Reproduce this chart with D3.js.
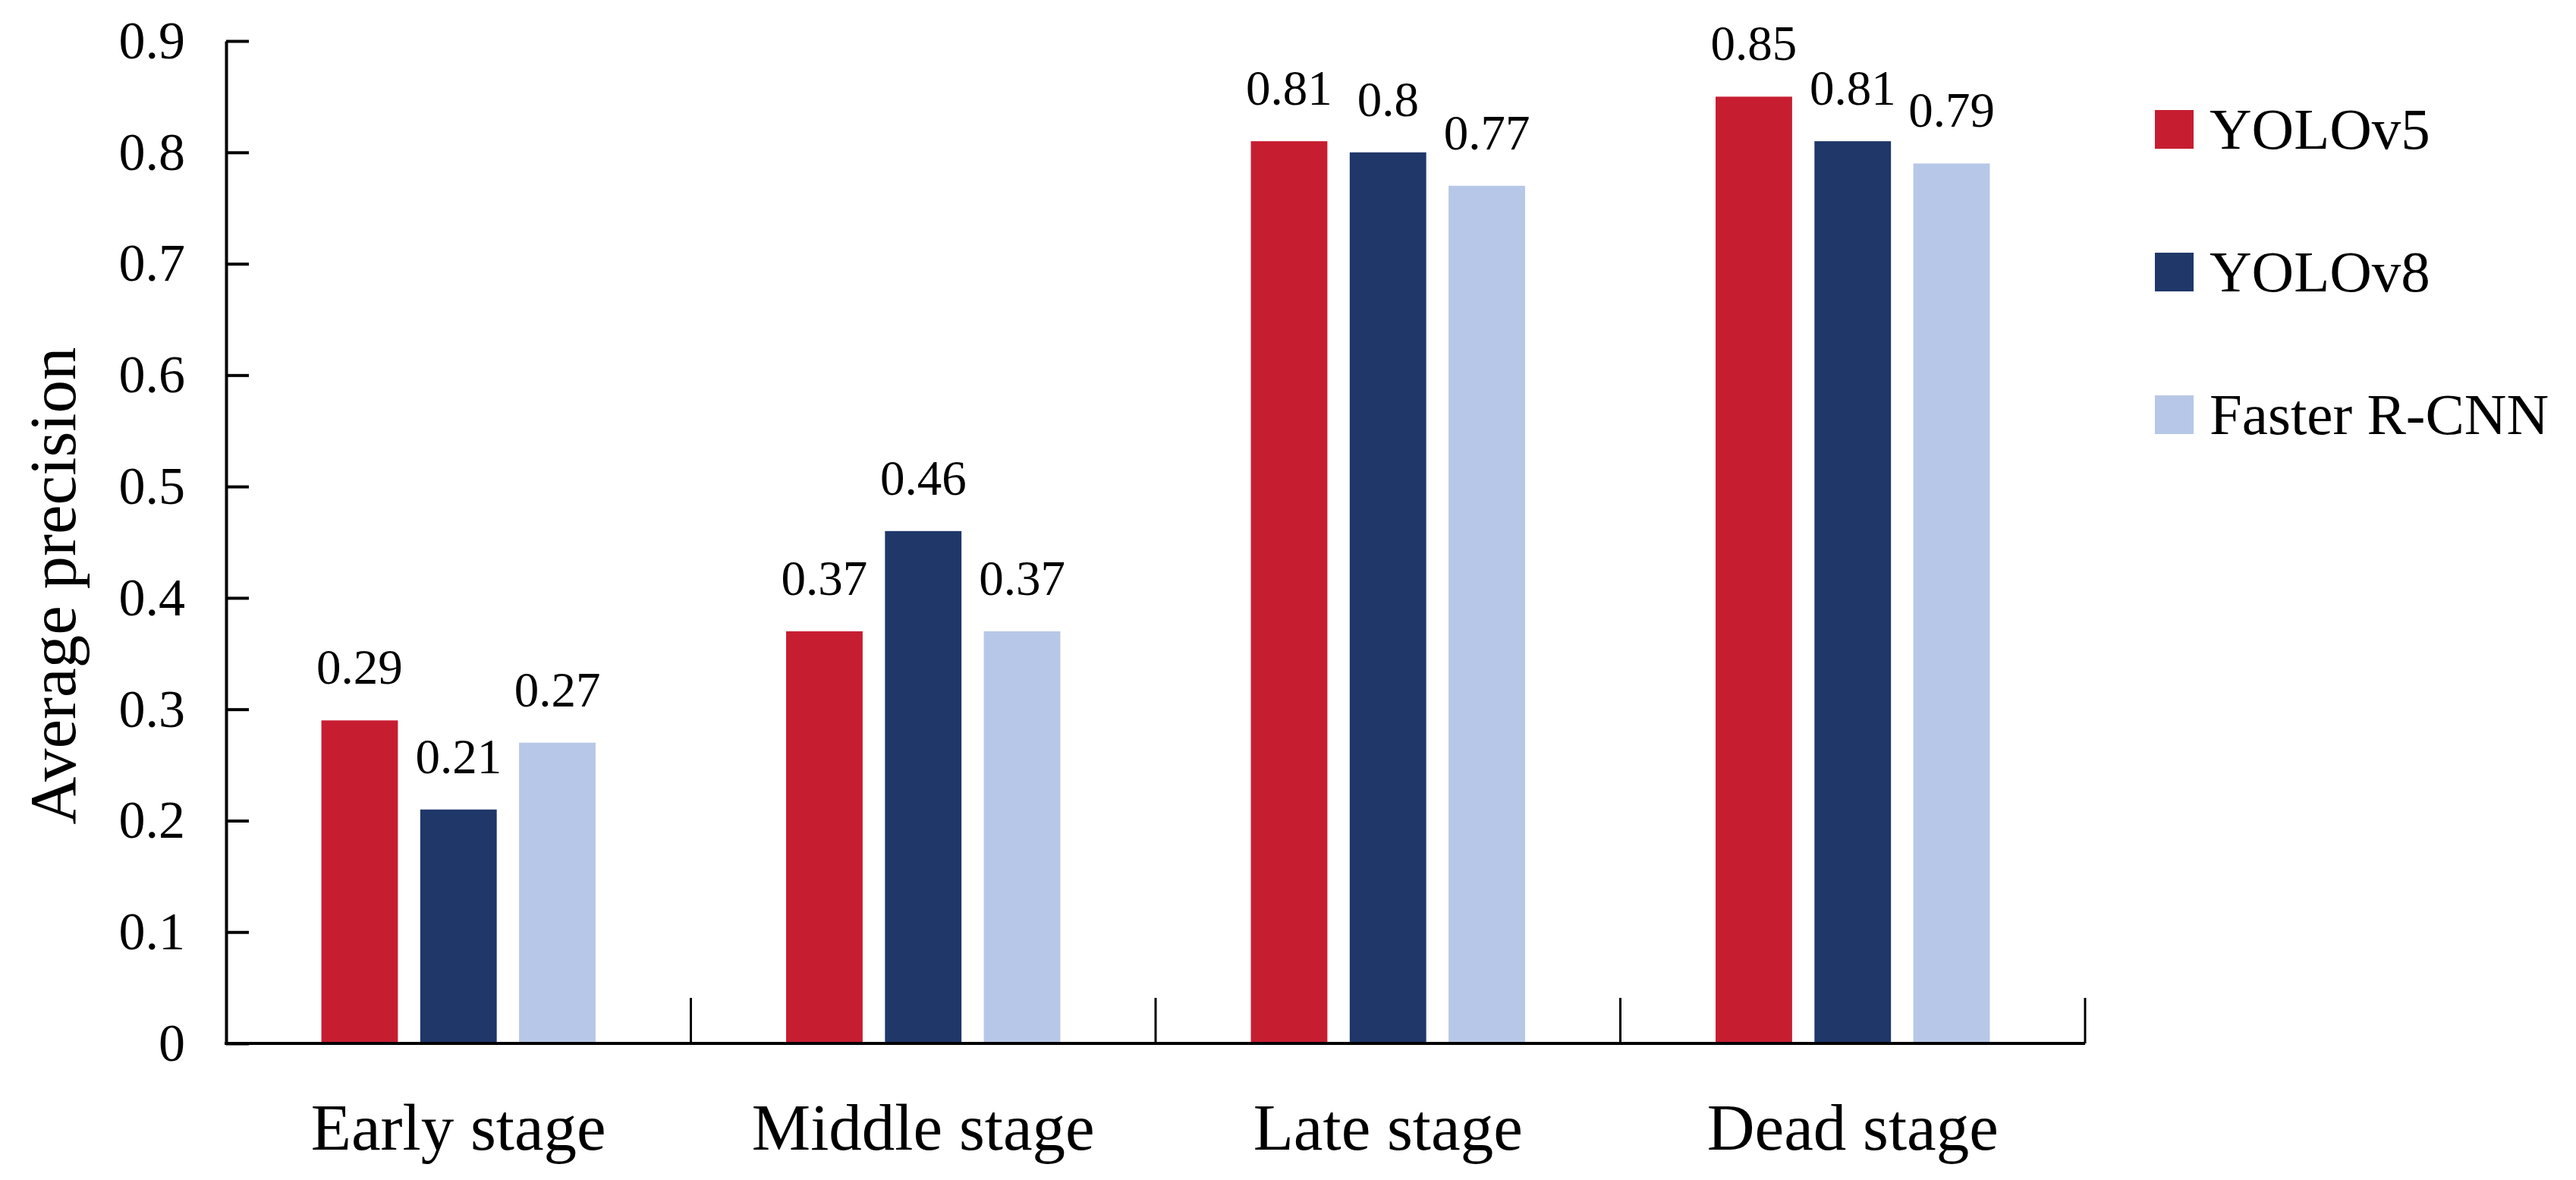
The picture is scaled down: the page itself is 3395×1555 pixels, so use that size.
<!DOCTYPE html>
<html>
<head>
<meta charset="utf-8">
<script src="https://cdn.jsdelivr.net/npm/d3@7"></script>
<style>
  body { margin: 0; background: #fff; }
  text { font-family: "Liberation Serif", "Times New Roman", serif; fill: #000; }
</style>
</head>
<body>
<div id="container"></div>
<script>
// datos
const categories = ['Early stage', 'Middle stage', 'Late stage', 'Dead stage'];
const seriesNames = ['YOLOv5', 'YOLOv8', 'Faster R-CNN'];
const yolov5 = [0.29, 0.37, 0.81, 0.85];
const yolov8 = [0.21, 0.46, 0.8, 0.81];
const fasterRcnn = [0.27, 0.37, 0.77, 0.79];
const yTicks = [0, 0.1, 0.2, 0.3, 0.4, 0.5, 0.6, 0.7, 0.8, 0.9];
const seriesColors = ['#c71d31', '#1f3769', '#b7c7e7'];

const WIDTH = 3395;
const HEIGHT = 1555;
const MARGIN = { TOP: 54, BOTTOM: 180, LEFT: 298, RIGHT: 647 };
const width = WIDTH - MARGIN.LEFT - MARGIN.RIGHT;
const height = HEIGHT - MARGIN.TOP - MARGIN.BOTTOM;

const seriesValues = [yolov5, yolov8, fasterRcnn];

const svg = d3.select('#container')
  .append('svg')
    .attr('width', WIDTH)
    .attr('height', HEIGHT);

const g = svg.append('g')
  .attr('transform', `translate(${MARGIN.LEFT}, ${MARGIN.TOP})`);

// escalas
const x = d3.scaleBand()
  .domain(categories)
  .range([0, width]);

const xInner = d3.scaleBand()
  .domain(seriesNames)
  .range([x.bandwidth() * 0.205, x.bandwidth() * 0.795])
  .paddingInner(0.226);

const y = d3.scaleLinear()
  .domain([0, 0.9])
  .range([height, 0]);

const color = d3.scaleOrdinal()
  .domain(seriesNames)
  .range(seriesColors);

// barras
const rows = categories.map((c, i) => ({
  category: c,
  values: seriesNames.map((s, j) => ({ series: s, value: seriesValues[j][i] }))
}));

const groups = g.selectAll('.group')
  .data(rows)
  .enter()
  .append('g')
    .attr('class', 'group')
    .attr('transform', d => `translate(${x(d.category)}, 0)`);

groups.selectAll('rect')
  .data(d => d.values)
  .enter()
  .append('rect')
    .attr('x', d => xInner(d.series))
    .attr('y', d => y(d.value))
    .attr('width', xInner.bandwidth())
    .attr('height', d => height - y(d.value))
    .attr('fill', d => color(d.series));

groups.selectAll('.value')
  .data(d => d.values)
  .enter()
  .append('text')
    .attr('class', 'value')
    .attr('x', d => xInner(d.series) + xInner.bandwidth() / 2)
    .attr('y', d => y(d.value) - 48)
    .attr('text-anchor', 'middle')
    .attr('font-size', 65)
    .text(d => String(d.value));

// eje y
const yAxis = g.append('g')
  .call(d3.axisLeft(y)
    .tickValues(yTicks)
    .tickSizeInner(-30)
    .tickSizeOuter(0)
    .tickPadding(54)
    .tickFormat(d => String(d)));
yAxis.select('.domain').attr('stroke', '#000').attr('stroke-width', 4);
yAxis.selectAll('.tick line').attr('stroke', '#000').attr('stroke-width', 4);
yAxis.selectAll('.tick text')
  .attr('font-size', 70)
  .attr('font-family', '"Liberation Serif", "Times New Roman", serif');

// eje x: etiquetas
const xAxis = g.append('g')
  .attr('transform', `translate(0, ${height})`)
  .call(d3.axisBottom(x)
    .tickSizeInner(0)
    .tickSizeOuter(0)
    .tickPadding(78));
xAxis.select('.domain').remove();
xAxis.selectAll('.tick line').remove();
xAxis.selectAll('.tick text')
  .attr('font-size', 87)
  .attr('font-family', '"Liberation Serif", "Times New Roman", serif');

// linea base y separadores de categoria
g.append('line')
  .attr('x1', -2)
  .attr('x2', width)
  .attr('y1', height)
  .attr('y2', height)
  .attr('stroke', '#000')
  .attr('stroke-width', 4);

g.selectAll('.divider')
  .data(categories)
  .enter()
  .append('line')
    .attr('class', 'divider')
    .attr('x1', d => x(d) + x.bandwidth())
    .attr('x2', d => x(d) + x.bandwidth())
    .attr('y1', height)
    .attr('y2', height - 60)
    .attr('stroke', '#000')
    .attr('stroke-width', 3);

// titulo del eje y
svg.append('text')
  .attr('transform', 'translate(99, 772) rotate(-90)')
  .attr('text-anchor', 'middle')
  .attr('font-size', 87)
  .text('Average precision');

// leyenda
const legend = svg.append('g')
  .attr('transform', 'translate(2840, 145)');

const legendItems = legend.selectAll('.item')
  .data(seriesNames)
  .enter()
  .append('g')
    .attr('class', 'item')
    .attr('transform', (d, i) => `translate(0, ${i * 188})`);

legendItems.append('rect')
  .attr('width', 51)
  .attr('height', 51)
  .attr('fill', d => color(d));

legendItems.append('text')
  .attr('x', 72)
  .attr('y', 51)
  .attr('font-size', 77)
  .text(d => d);
</script>
</body>
</html>
